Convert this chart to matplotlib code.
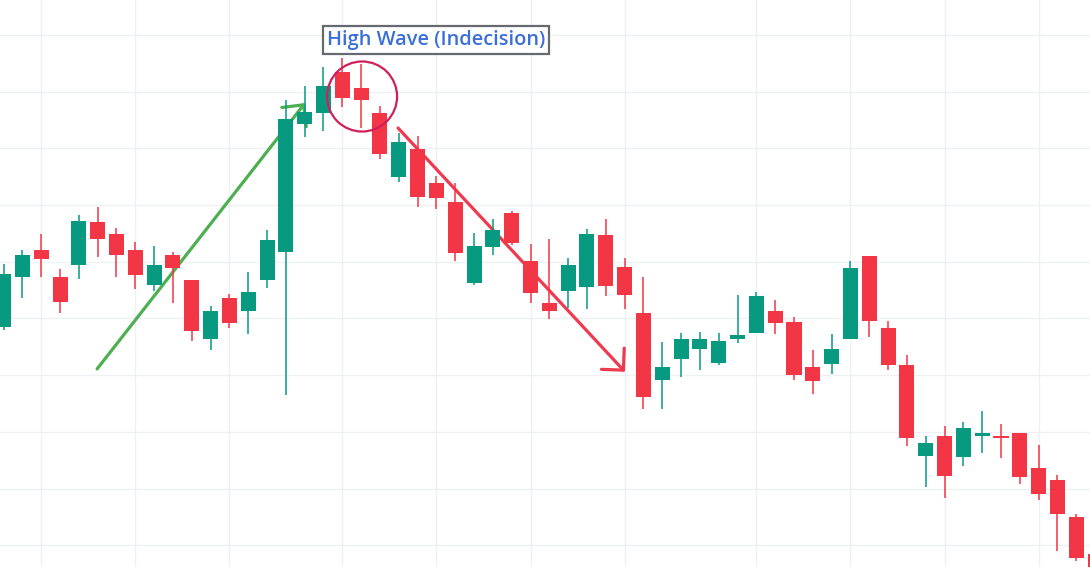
import numpy as np
import matplotlib.pyplot as plt
from matplotlib.patches import Ellipse

# OHLC (price units, grid every 10)
opens = [138.5, 147.3, 152.1, 147.3, 149.4, 157.0, 154.9, 152.1, 145.9, 151.2,
         146.8, 136.4, 143.6, 141.3, 146.8, 151.7, 174.3, 176.2, 183.5, 180.7,
         176.2, 165.0, 169.9, 163.9, 160.5, 146.3, 152.6, 158.6, 150.1, 142.7,
         144.9, 145.6, 154.7, 149.1, 141.0, 129.2, 132.9, 134.6, 132.2, 136.4,
         137.4, 141.3, 139.4, 131.4, 132.0, 136.4, 151.0, 138.3, 131.8, 115.7,
         119.3, 115.6, 119.3, 119.3, 119.8, 113.6, 111.5, 105.0, 98.5]
highs = [149.6, 152.1, 154.9, 148.7, 158.3, 159.7, 156.0, 153.5, 152.8, 151.7,
         146.8, 142.2, 144.3, 148.2, 155.6, 178.5, 181.0, 184.4, 185.9, 184.9,
         177.5, 172.7, 172.2, 165.1, 163.9, 155.1, 157.5, 159.0, 153.1, 154.0,
         150.7, 155.8, 157.5, 150.7, 147.3, 135.9, 137.4, 137.6, 137.4, 144.1,
         144.7, 143.3, 140.3, 134.4, 137.3, 150.1, 151.0, 139.6, 133.6, 119.3,
         121.0, 121.7, 123.7, 121.4, 119.8, 117.7, 112.4, 105.5, 98.8]
lows = [138.0, 143.6, 147.3, 141.0, 147.0, 150.8, 147.3, 145.2, 144.9, 142.7,
        136.0, 134.4, 138.3, 137.3, 145.4, 126.5, 172.0, 173.1, 177.3, 173.6,
        168.1, 164.1, 159.7, 159.3, 150.1, 145.9, 151.2, 153.0, 142.7, 139.9,
        141.9, 141.7, 144.0, 141.7, 124.0, 124.0, 129.7, 130.9, 131.8, 135.7,
        137.4, 137.3, 129.2, 126.7, 130.2, 136.4, 136.7, 130.9, 117.5, 110.3,
        108.3, 114.0, 116.3, 115.4, 110.8, 108.0, 99.0, 97.2, 93.0]
closes = [147.8, 151.2, 150.5, 142.9, 157.2, 154.0, 151.2, 147.7, 149.4, 148.9,
          137.8, 141.3, 139.2, 144.7, 153.8, 175.2, 176.4, 181.0, 178.9, 178.5,
          169.0, 171.1, 161.4, 161.3, 151.6, 152.8, 155.6, 153.3, 144.5, 141.3,
          149.4, 154.9, 145.7, 144.1, 126.2, 131.4, 136.4, 136.4, 136.0, 137.1,
          144.0, 139.2, 130.0, 129.0, 134.6, 148.9, 139.6, 131.8, 118.9, 118.0,
          112.2, 120.7, 119.8, 118.9, 112.0, 109.0, 105.5, 97.8, 94.0]

grid_bars = [2, 7, 12, 18, 23, 28, 33, 40, 45, 50, 55]
grid_prices = [100, 110, 120, 130, 140, 150, 160, 170, 180, 190]

# annotation anchors (bar index, price)
up_arrow = [(4.97, 131.1), (16.02, 178.0)]
down_arrow = [(20.96, 173.6), (33.02, 130.6)]
circle_center = (19.05, 179.15)
label_pos = (22.98, 189.1)
label_text = "High Wave (Indecision)"

GREEN = "#089981"
RED = "#F23645"

fig = plt.figure(figsize=(10.9, 5.67), dpi=100)
ax = fig.add_axes([0, 0, 1, 1])

x = np.arange(len(opens))
o = np.array(opens)
c = np.array(closes)
colors = [GREEN if cc >= oo else RED for oo, cc in zip(o, c)]

ax.vlines(x, lows, highs, colors=colors, linewidth=1.1, zorder=3)
body_h = np.maximum(np.abs(c - o), 0.25)
ax.bar(x, body_h, bottom=np.minimum(o, c), width=0.8, color=colors,
       linewidth=0, zorder=4)

ax.set_xlim(-0.19, 57.73)
ax.set_ylim(96.17, 196.17)
ax.set_xticks(grid_bars)
ax.set_yticks(grid_prices)
ax.grid(True, color="#eef0f3", linewidth=1.0, zorder=0)
ax.tick_params(length=0, labelbottom=False, labelleft=False)
for s in ax.spines.values():
    s.set_visible(False)

def arrow(pts, color):
    (x0, y0), (x1, y1) = pts
    ax.annotate("", xy=(x1, y1), xytext=(x0, y0),
                arrowprops=dict(arrowstyle="->,head_length=0.56,head_width=0.56",
                                color=color, lw=2.3, mutation_scale=20,
                                shrinkA=0, shrinkB=0),
                zorder=2)

arrow(up_arrow, "#4caf50")
arrow(down_arrow, "#ee3a4f")

ax.add_patch(Ellipse(circle_center, width=3.72, height=12.35, fill=False,
                     edgecolor="#cf1f5c", linewidth=1.6, zorder=5))

ax.text(label_pos[0], label_pos[1], label_text, ha="center", va="center",
        fontsize=14.4, family=["Open Sans", "DejaVu Sans"], weight="semibold",
        color="#3b6fd8", zorder=6,
        bbox=dict(boxstyle="square,pad=0.2", facecolor="white",
                  edgecolor="#666a70", linewidth=1.6))

fig.savefig("out.png", dpi=100)
